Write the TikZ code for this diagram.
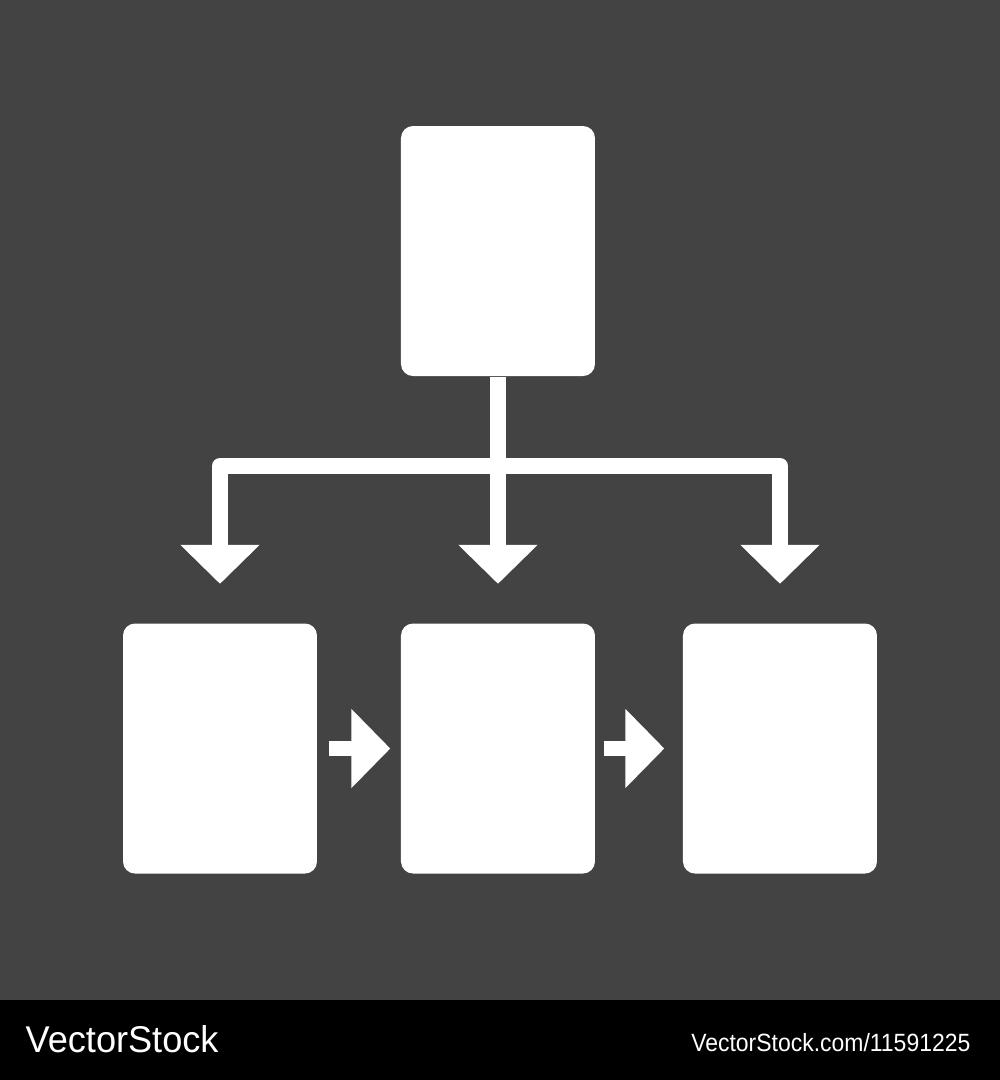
\documentclass[tikz,border=0pt]{standalone}
\usepackage{fontspec}
\setmainfont{Liberation Sans}
\usetikzlibrary{arrows.meta}
\definecolor{panelgrey}{RGB}{67,67,67}

\begin{document}
\begin{tikzpicture}[x=0.1mm, y=-0.1mm,
	sheet/.style = {fill=white, rounded corners=1.2mm, minimum width=19.4mm, minimum height=25mm, inner sep=0pt},
	branch/.style = {draw=white, line width=1.6mm, line join=round, -{Triangle[length=3.9mm, width=7.7mm]}, shorten >=3.9mm},
	nextarrow/.style = {draw=white, line width=1.5mm, -{Triangle[length=3.9mm, width=7.7mm]}}]
	
	\fill[panelgrey] (0,0) rectangle (1000,1000);
	\fill[black] (0,1000) rectangle (1000,1080);
	
	\node[sheet] (top) at (498,251) {};
	\node[sheet] (left) at (220,748.5) {};
	\node[sheet] (mid) at (498,748.5) {};
	\node[sheet] (right) at (780,748.5) {};
	\coordinate (split) at (498,466);
	
	\draw[draw=white, line width=1.6mm] (top.south) -- (split);
	\draw[branch] (split) -| (left.north);
	\draw[branch] (split) -| (right.north);
	\draw[branch] (split) -- (mid.north);
	
	\draw[nextarrow, shorten <=1.1mm, shorten >=1mm] (left.east) -- (mid.west);
	\draw[nextarrow, shorten <=0.8mm, shorten >=1.8mm] (mid.east) -- (right.west);
	
	\node[anchor=base west, text=white, inner sep=0pt, xscale=0.97, font=\fontsize{10.6}{12}\selectfont] (brand) at (25,1052) {VectorStock};
	\node[anchor=base east, text=white, inner sep=0pt, xscale=0.92, font=\fontsize{7.1}{9}\selectfont] (stockid) at (971,1051) {VectorStock.com/11591225};
\end{tikzpicture}
\end{document}
